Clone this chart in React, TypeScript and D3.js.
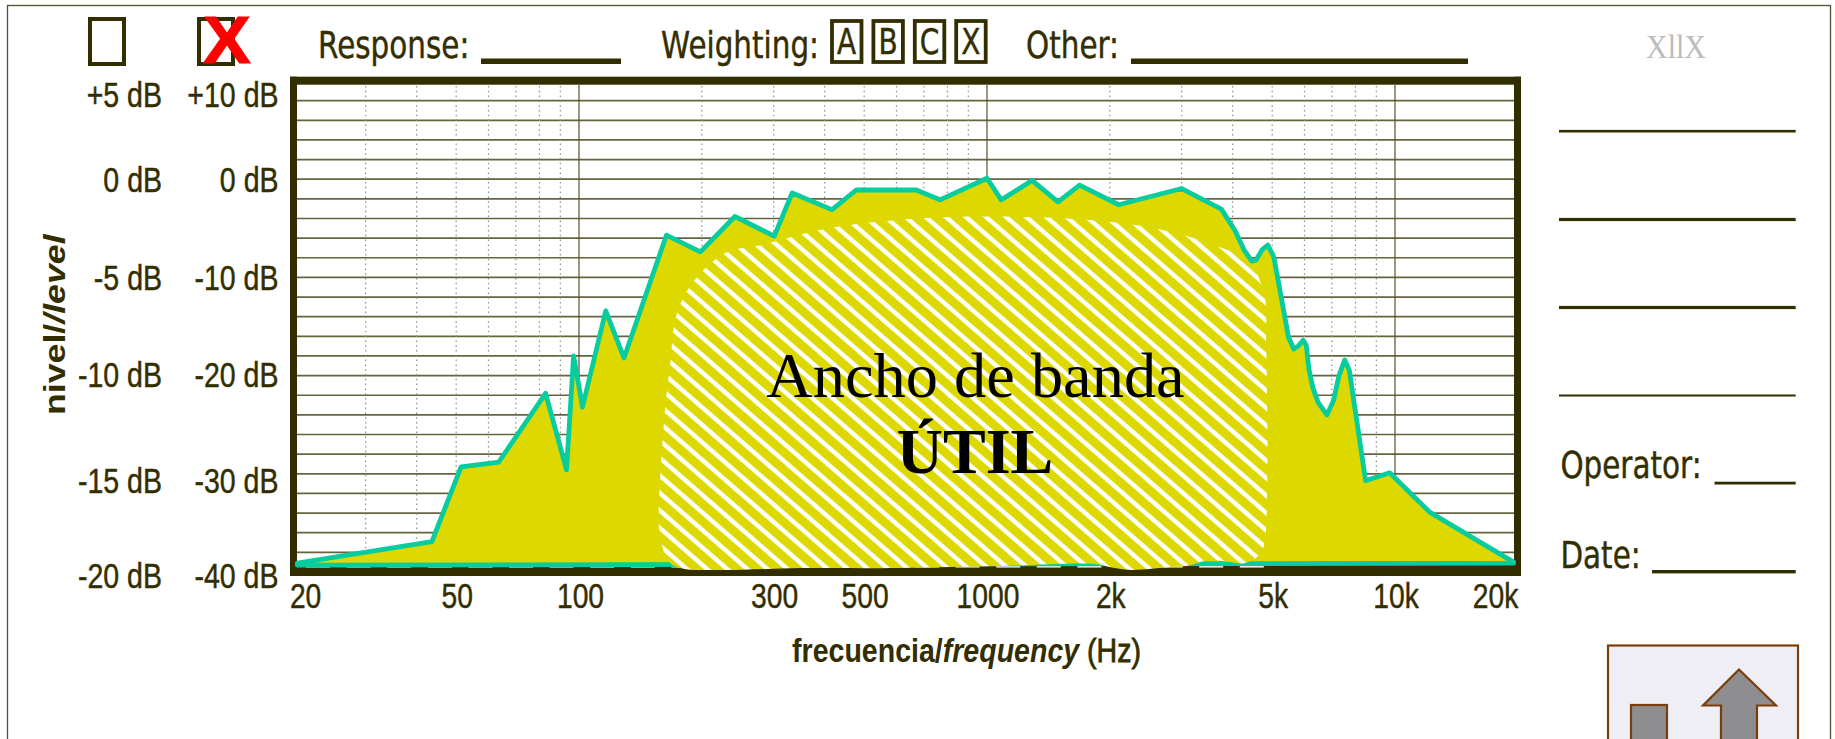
import React from "react";
import * as d3 from "d3";

// ---- data ----
const curveFreq = [20.4, 43.6, 51.4, 63.6, 82.8, 93.2, 97, 102, 116.3, 128.9, 163.8, 198.4, 241, 301, 333, 417, 478, 671, 767, 1000, 1084, 1289, 1493, 1686, 2104, 3000, 3753, 4050, 4266, 4457, 4563, 4721, 4878, 5045, 5277, 5480, 5649, 5787, 5957, 6060, 6158, 6299, 6475, 6813, 7073, 7290, 7530, 7726, 8472, 9706, 12161, 19534, 19534, 20.4];
const curveLevel = [-39.1, -36.9, -29.3, -28.8, -21.8, -29.6, -18.0, -23.2, -13.4, -18.2, -5.7, -7.4, -3.8, -5.8, -1.4, -3.1, -1.1, -1.1, -2.1, 0.1, -2.1, -0.13, -2.3, -0.6, -2.6, -0.95, -3.05, -5.2, -7.2, -8.35, -8.25, -7.2, -6.7, -7.9, -12.3, -16.06, -17.3, -17.0, -16.4, -16.9, -19.45, -21.3, -22.7, -24.0, -22.5, -20, -18.4, -19.45, -30.7, -29.9, -33.9, -39, -39.1, -39.3];

const bandFreq = [157, 165, 177, 222, 348, 612, 1076, 1849, 2060, 2266, 2810, 3144, 3480, 3831, 4266, 4615, 4750, 4810, 4870, 4830, 4810, 4412, 3480, 2573, 1849, 1119, 677, 409, 280, 229, 192, 174, 167, 163, 157];
const bandLevel = [-35.4, -38.8, -39.6, -39.8, -39.6, -39.6, -39.4, -39.2, -39.6, -39.8, -39.5, -39.3, -38.8, -38.9, -39.1, -38.4, -37.6, -36.5, -27.9, -15.7, -12.3, -8.55, -6.5, -5, -4.2, -3.8, -4, -5, -6.7, -7.5, -10.3, -13.6, -19.1, -22.8, -33];

const gridLevels = [8, 6, 4, 2, 0, -2, -4, -6, -8, -10, -12, -14, -16, -18, -20, -22, -24, -26, -28, -30, -32, -34, -36, -38];
const decadeFreqs = [100, 1000, 10000];
const minorFreqs = [30, 40, 50, 60, 70, 80, 90, 200, 300, 400, 500, 600, 700, 800, 900, 2000, 3000, 4000, 5000, 6000, 7000, 8000, 9000];

const levelTicks = [10, 0, -10, -20, -30, -40];
const levelLabels5 = ["+5 dB", "0 dB", "-5 dB", "-10 dB", "-15 dB", "-20 dB"];
const levelLabels10 = ["+10 dB", "0 dB", "-10 dB", "-20 dB", "-30 dB", "-40 dB"];
const freqTicks = [20, 50, 100, 300, 500, 1000, 2000, 5000, 10000, 20000];
const freqLabels = ["20", "50", "100", "300", "500", "1000", "2k", "5k", "10k", "20k"];
const weightings = ["A", "B", "C", "X"];
const noteLinesY = [131.5, 219.5, 307.5, 395.5];

// ---- layout ----
const INK = "#332e00";
const YELLOW = "#dcd800";
const TEAL = "#06cc9e";
const BROWN = "#7a3e0c";
const SANS = "'Liberation Sans', Arial, sans-serif";
const DEJA = "'DejaVu Sans', sans-serif";
const SERIF = "'Liberation Serif', serif";
const levelLabelDy = [25.7, 12.7, 13, 11.6, 19.6, 15.7];

const x = d3.scaleLog().domain([100, 10000]).range([579, 1395]);
const y = d3.scaleLinear().domain([10, -40]).range([81, 572]);

type TP = {
  x: number; y: number; sx?: number; size: number; font: string; anchor?: string;
  fill?: string; weight?: string | number; bold?: number; children: React.ReactNode;
};
function T({ x: tx, y: ty, sx = 1, size, font, anchor = "start", fill = INK, weight = "normal", bold = 0.45, children }: TP) {
  return (
    <text
      transform={`translate(${tx},${ty}) scale(${sx},1)`}
      fontFamily={font}
      fontSize={size}
      textAnchor={anchor}
      fill={fill}
      fontWeight={weight}
      stroke={bold ? fill : "none"}
      strokeWidth={bold}
    >
      {children}
    </text>
  );
}

export default function App() {
  const pts = curveFreq.map((f, i) => [x(f), y(curveLevel[i])] as [number, number]);
  const curvePath = d3.line().curve(d3.curveLinear)(pts) + "Z";
  const bandPts = bandFreq.map((f, i) => [x(f), y(bandLevel[i])] as [number, number]);
  const bandPath = d3.line().curve(d3.curveCatmullRomClosed.alpha(0.5))(bandPts) as string;

  const dashes = d3.range(24).map((i) => 306 + i * 40.6);

  return (
    <svg
      width={1835}
      height={739}
      viewBox="0 0 1835 739"
      style={{ position: "absolute", left: 0, top: 0, display: "block", background: "#fff" }}
    >
      <defs>
        <pattern id="hatch" patternUnits="userSpaceOnUse" width={13.2} height={13.2} patternTransform="rotate(41)">
          <rect width={13.2} height={13.2} fill={YELLOW} />
          <rect y={3} width={13.2} height={4.4} fill="#ffffff" />
        </pattern>
      </defs>

      {/* sheet border */}
      <rect x={7.5} y={5.5} width={1823} height={800} fill="none" stroke="#55522a" strokeWidth={1.3} />

      {/* check boxes */}
      <rect x={90} y={19} width={34} height={45} fill="none" stroke={INK} strokeWidth={4} />
      <rect x={199} y={19} width={34} height={45} fill="none" stroke={INK} strokeWidth={4} />
      <T x={227} y={62.7} size={67} font={SANS} weight="bold" fill="#ff0000" anchor="middle" sx={1.08} bold={0.8}>X</T>

      {/* header */}
      <T x={318} y={58} size={38} sx={0.775} font={DEJA}>Response:</T>
      <rect x={481} y={58.5} width={140} height={5.5} fill={INK} />
      <T x={661} y={58} size={38} sx={0.775} font={DEJA}>Weighting:</T>
      {weightings.map((w, i) => (
        <g key={w}>
          <rect x={832 + i * 41.4} y={21} width={29.5} height={41} fill="none" stroke={INK} strokeWidth={3.8} />
          <T x={846.7 + i * 41.4} y={54} size={35} sx={0.8} font={DEJA} anchor="middle">{w}</T>
        </g>
      ))}
      <T x={1026} y={58} size={38} sx={0.775} font={DEJA}>Other:</T>
      <rect x={1131} y={58.5} width={337} height={5.5} fill={INK} />
      <T x={1676} y={58} size={33} sx={0.91} font={SERIF} fill="#bcbcbc" anchor="middle" bold={0}>XllX</T>

      {/* grid */}
      {gridLevels.map((l) => (
        <line key={l} x1={297} x2={1514} y1={y(l)} y2={y(l)} stroke="#66633f" strokeWidth={1.7} />
      ))}
      <line x1={297} x2={1514} y1={y(-39.6)} y2={y(-39.6)} stroke="#66633f" strokeWidth={1} />
      {minorFreqs.map((f) => (
        <line key={f} x1={x(f)} x2={x(f)} y1={86} y2={566} stroke="#8f8f80" strokeWidth={1.2} strokeDasharray="1.5 3.3" />
      ))}
      {decadeFreqs.map((f) => (
        <line key={f} x1={x(f)} x2={x(f)} y1={85} y2={566} stroke="#55522a" strokeWidth={1.2} />
      ))}

      {/* frame */}
      <rect x={290} y={76.7} width={1231} height={8} fill={INK} />
      <rect x={290} y={76.7} width={7} height={499.3} fill={INK} />
      <rect x={1514} y={76.7} width={7} height={499.3} fill={INK} />
      <rect x={290} y={565} width={1231} height={11} fill={INK} />
      {dashes.map((d) => (
        <rect key={d} x={d} y={565} width={24} height={2.6} fill="#eeeee2" />
      ))}

      {/* response */}
      <path d={curvePath} fill={YELLOW} stroke={TEAL} strokeWidth={4.8} strokeLinejoin="round" />
      <path d={bandPath} fill="url(#hatch)" />

      <T x={975.5} y={396.7} size={63} sx={1.022} font={SERIF} fill="#000" anchor="middle" bold={0}>Ancho de banda</T>
      <T x={975} y={473} size={64} sx={1.0} font={SERIF} fill="#000" anchor="middle" weight="bold" bold={0}>ÚTIL</T>

      {/* level labels */}
      {levelTicks.map((l, i) => (
        <g key={l}>
          <T x={162} y={y(l) + levelLabelDy[i]} size={35} sx={0.815} font={SANS} anchor="end">{levelLabels5[i]}</T>
          <T x={278.5} y={y(l) + levelLabelDy[i]} size={35} sx={0.815} font={SANS} anchor="end">{levelLabels10[i]}</T>
        </g>
      ))}

      {/* frequency labels */}
      {freqTicks.map((f, i) => (
        <T key={f} x={Math.min(1495.5, Math.max(305.6, x(f) + (f === 100 ? 1.5 : 1)))} y={608.3} size={36} sx={0.785} font={SANS} anchor="middle">
          {freqLabels[i]}
        </T>
      ))}

      <text
        transform="translate(966.5,661.7) scale(0.84,1)"
        fontFamily={SANS}
        fontSize={34}
        textAnchor="middle"
        fill={INK}
        fontWeight="bold"
      >
        frecuencia/<tspan fontStyle="italic">frequency</tspan> <tspan fontWeight="normal" stroke={INK} strokeWidth={0.8}>(Hz)</tspan>
      </text>

      <text
        transform="translate(64.7,415) rotate(-90) scale(1.19,1)"
        fontFamily={SANS}
        fontSize={30}
        fill={INK}
        fontWeight="bold"
      >
        nivel/<tspan fontStyle="italic">/level</tspan>
      </text>

      {/* side notes */}
      {noteLinesY.map((ly, i) => (
        <rect key={ly} x={1559} y={ly - (i === 3 ? 1 : 1.6)} width={236.7} height={i === 3 ? 2 : i === 0 ? 2.6 : 3.2} fill={INK} />
      ))}
      <T x={1560.4} y={478.3} size={38} sx={0.775} font={DEJA}>Operator:</T>
      <rect x={1714.5} y={481.7} width={81.2} height={2.8} fill={INK} />
      <T x={1560.4} y={568.3} size={38} sx={0.775} font={DEJA}>Date:</T>
      <rect x={1652} y={570} width={143.7} height={3.4} fill={INK} />

      {/* arrow logo */}
      <rect x={1608} y={645.5} width={190} height={120} fill="#eeeef4" stroke={BROWN} strokeWidth={2.2} />
      <rect x={1631} y={705} width={36} height={70} fill="#8e8e90" stroke={BROWN} strokeWidth={2.2} />
      <path d="M1739 669.5L1776 705.5H1757V760H1721V705.5H1703Z" fill="#8e8e90" stroke={BROWN} strokeWidth={2.2} />
    </svg>
  );
}
